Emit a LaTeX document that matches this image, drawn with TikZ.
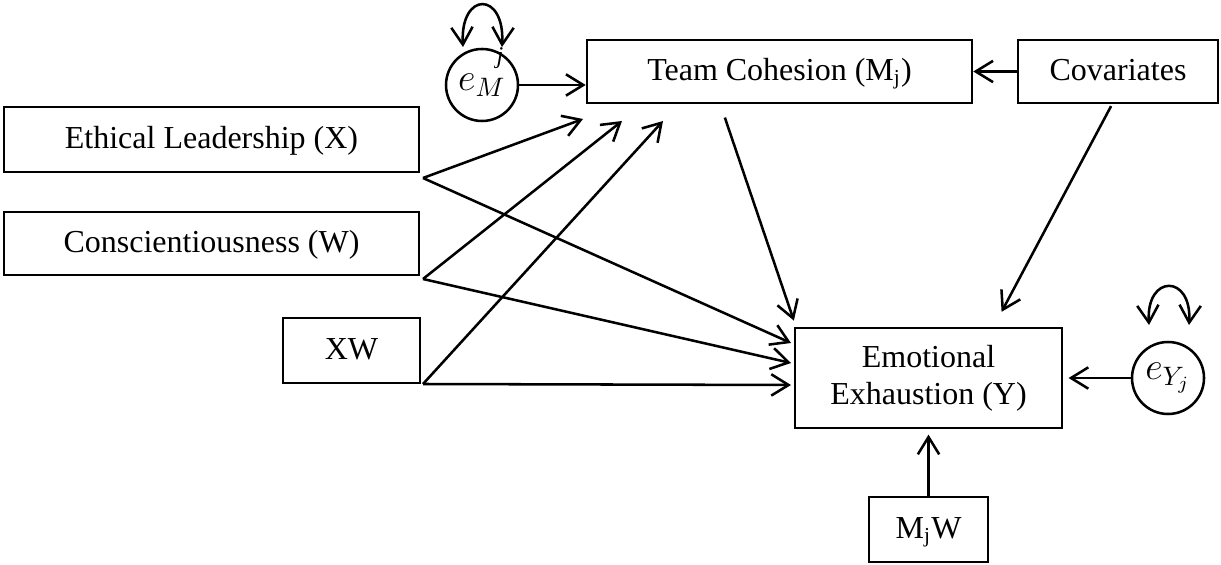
\documentclass[tikz,border=0pt]{standalone}
\usepackage{fontspec}
\setmainfont{Liberation Serif}
\usetikzlibrary{arrows.meta}

\begin{document}
\begin{tikzpicture}[x=0.375pt,y=-0.375pt,line width=0.95pt,
    >={Straight Barb[length=6.5pt,width=8pt]},
    every node/.style={font=\fontsize{12}{14}\selectfont},
    var/.style={draw,rectangle,inner sep=0pt,align=center},
    line/.style={text height=9pt,text depth=2.5pt},
    err/.style={draw,circle,inner sep=0pt,minimum size=27pt,font=\fontsize{14.5}{16}\selectfont}]
      \useasboundingbox (0,0) rectangle (1221,565);

      \node [var,line,minimum width=155.6pt,minimum height=24.4pt] (X) at (211.5,139.5) {Ethical Leadership (X)};
      \node [var,line,minimum width=155.6pt,minimum height=23.6pt] (W) at (211.5,243.5) {Conscientiousness (W)};
      \node [var,line,minimum width=51.4pt,minimum height=24.4pt] (XW) at (351.5,350.5) {XW};
      \node [var,line,minimum width=144.4pt,minimum height=23.6pt] (M) at (779.5,71.5) {Team Cohesion (M\textsubscript{j})};
      \node [var,line,minimum width=75pt,minimum height=23.6pt] (C) at (1118,71.5) {Covariates};
      \node [var,minimum width=100.1pt,minimum height=37.5pt] (Y) at (928.5,378) {Emotional\\Exhaustion (Y)};
      \node [var,line,minimum width=44.6pt,minimum height=24.4pt] (MW) at (928.5,529.5) {M\textsubscript{j}W};
      \node [err] (eM) at (482,85) {$e_M$};
      \node [err] (eY) at (1168,378) {$e_{Y_j}$};
      \node [font=\fontsize{9}{9}\selectfont\itshape] (j) at (500,58) {j};

      % free ends of the paths
      \coordinate (x0) at (423,178);
      \coordinate (w0) at (423,279);
      \coordinate (xw0) at (423,384);
      \coordinate (m1) at (583,119);
      \coordinate (m2) at (622,121);
      \coordinate (m3) at (663,121);
      \coordinate (y1) at (791,343);
      \coordinate (y2) at (791,363);
      \coordinate (y3) at (791,385);

      \draw[->] (x0) -- (m1);
      \draw[->] (w0) -- (m2);
      \draw[->] (xw0) -- (m3);
      \draw[->] (x0) -- (y1);
      \draw[->] (w0) -- (y2);
      \draw[->] (xw0) -- (y3);

      \draw[->] (eM) -- (eM -| M.west);
      \draw[->] (C) -- (M);
      \draw[->] ([xshift=-20.5pt,yshift=-5pt]M.south) -- ([xshift=-50.5pt,yshift=2.3pt]Y.north);
      \draw[->] ([xshift=-2.6pt,yshift=-0.7pt]C.south) -- ([xshift=27.4pt,yshift=5.6pt]Y.north);
      \draw[->] (eY) -- ([xshift=2pt]eY -| Y.east);
      \draw[->] (MW) -- ([yshift=-2pt]Y.south);

      \draw[<->] (463,47) .. controls (460,-9) and (505,-9) .. (502,47);
      \draw[<->] (1149,325) .. controls (1146,274) and (1192,274) .. (1189,325);
    \end{tikzpicture}
\end{document}
